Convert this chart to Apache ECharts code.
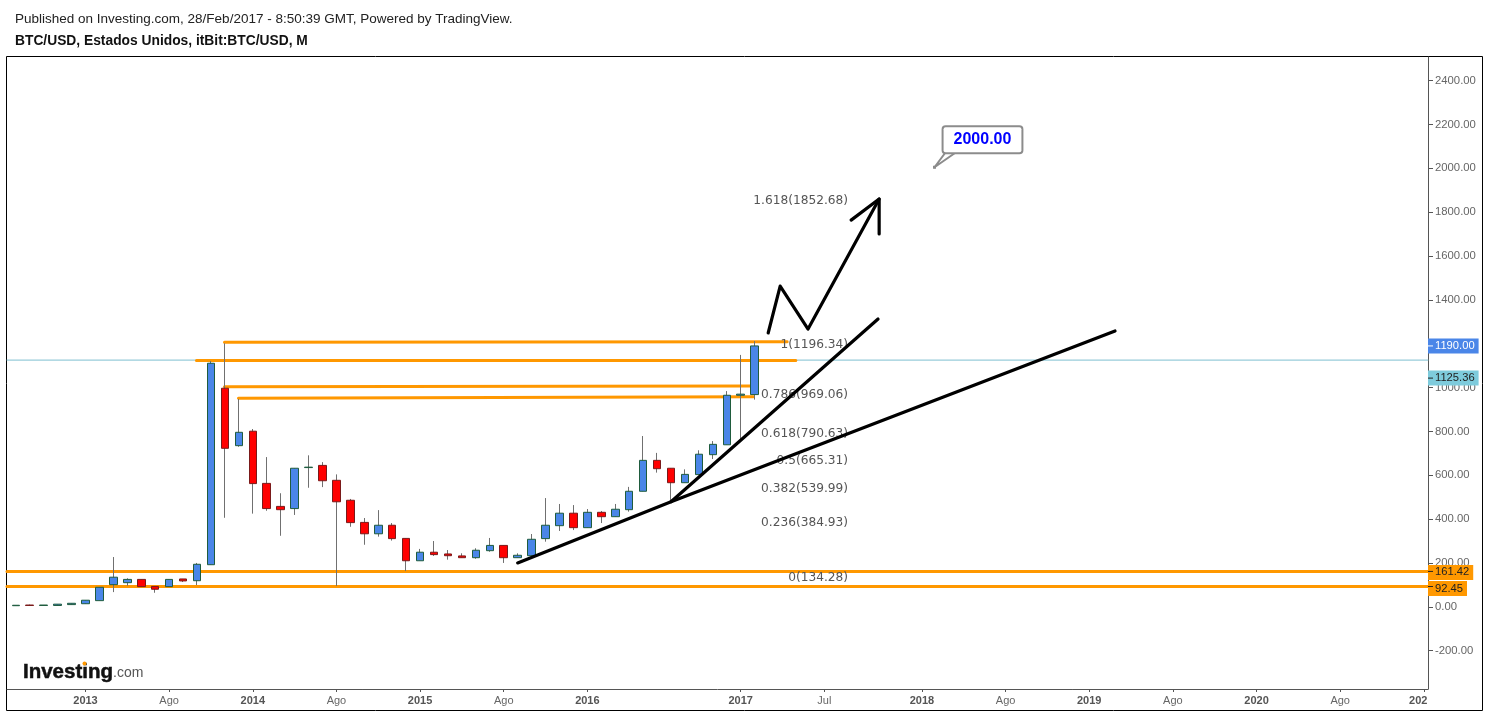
<!DOCTYPE html>
<html>
<head>
<meta charset="utf-8">
<title>BTC/USD</title>
<script src="https://cdn.jsdelivr.net/npm/echarts@6/dist/echarts.min.js"></script>
<style>
html, body { margin: 0; padding: 0; background: #fff; }
#chart { width: 1486px; height: 713px; }
</style>
</head>
<body>
<div id="chart"></div>
<script>
// bar numbers: 0 = Jan 2013, one per month
var barIndex = [-5, -4, -3, -2, -1, 0, 1, 2, 3, 4, 5, 6, 7, 8, 9, 10, 11, 12, 13, 14, 15, 16, 17, 18, 19, 20, 21, 22, 23, 24, 25, 26, 27, 28, 29, 30, 31, 32, 33, 34, 35, 36, 37, 38, 39, 40, 41, 42, 43, 44, 45, 46, 47, 48];
var opens = [5, 8, 6, 6, 10, 14, 28, 101, 110, 125, 93, 92, 127, 119, 192, 997, 735, 801, 563, 458, 448, 635, 645, 577, 486, 385, 333, 372, 312, 210, 249, 241, 232, 224, 256, 280, 224, 233, 311, 370, 427, 361, 431, 411, 443, 527, 668, 632, 566, 603, 694, 739, 965, 968];
var closes = [7, 6, 8, 12, 16, 30, 89, 135, 125, 92, 80, 125, 118, 194, 1111, 723, 796, 562, 448, 443, 632, 637, 575, 479, 384, 333, 372, 311, 210, 249, 238, 233, 224, 258, 280, 224, 235, 308, 372, 427, 361, 431, 411, 445, 527, 668, 630, 566, 604, 696, 741, 965, 970, 1190];
var lows = [5, 5, 6, 5, 10, 14, 28, 67, 96, 92, 64, 92, 113, 99, 192, 406, 730, 425, 438, 324, 419, 543, 546, 95, 365, 283, 320, 302, 163, 210, 232, 215, 224, 219, 251, 200, 224, 233, 297, 346, 350, 361, 382, 411, 434, 527, 612, 483, 566, 603, 674, 739, 753, 945];
var highs = [7, 10, 8, 12, 16, 30, 89, 227, 130, 125, 93, 125, 127, 200, 1121, 1202, 948, 811, 683, 518, 632, 691, 660, 604, 492, 405, 441, 382, 312, 264, 300, 259, 244, 267, 314, 280, 244, 332, 496, 469, 464, 446, 437, 469, 547, 779, 702, 632, 627, 714, 756, 984, 1149, 1212];

var priceTicks = [-200, 0, 200, 400, 600, 800, 1000, 1200, 1400, 1600, 1800, 2000, 2200, 2400];
var timeTickBars = [0, 6, 12, 18, 24, 30, 36, 47, 53, 60, 66, 72, 78, 84, 90, 96];
var timeLabelBars = [0, 6, 12, 18, 24, 30, 36, 47, 53, 60, 66, 72, 78, 84, 90, 95.6];
var timeLabels = ['2013', 'Ago', '2014', 'Ago', '2015', 'Ago', '2016', '2017', 'Jul', '2018', 'Ago', '2019', 'Ago', '2020', 'Ago', '202'];

var fibRatios = ['1.618', '1', '0.786', '0.618', '0.5', '0.382', '0.236', '0'];
var fibValues = [1852.68, 1196.34, 969.06, 790.63, 665.31, 539.99, 384.93, 134.28];

var supportLevels = [161.42, 92.45];
var lastClose = 1190;
var prevLevel = 1125.36;

// hand drawn lines, [bar, price]
var orangeSegments = [
    [[9.97, 1207], [50.33, 1209]],
    [[7.96, 1124], [50.95, 1124]],
    [[9.97, 1004], [47.68, 1007]],
    [[10.97, 951], [47.89, 958]]
];
var trendLow = [[31.0, 200], [42.0, 479.5], [73.85, 1258]];
var trendHigh = [[42.0, 479.5], [56.85, 1313]];
var wave = [[48.97, 1249], [49.83, 1463], [51.83, 1267], [56.93, 1860]];
var arrowHead = [[54.92, 1764], [56.93, 1860], [56.93, 1701]];
var calloutAnchor = [60.9, 2005];
var calloutTail = [[61.66, 2070], [60.9, 2005], [62.37, 2070]];
var calloutText = '2000.00';

var xMin = -5.631, xMax = 96.3, yMin = -375, yMax = 2508;

var bodies = [], wicks = [];
for (var i = 0; i < barIndex.length; i++) {
    wicks.push([barIndex[i], opens[i], closes[i], lows[i], highs[i]]);
    bodies.push([barIndex[i], opens[i], closes[i], Math.min(opens[i], closes[i]), Math.max(opens[i], closes[i])]);
}

var lineSeries = function (points, color, width, z) {
    return {
        type: 'line',
        data: points,
        symbol: 'none',
        silent: true,
        z: z,
        lineStyle: { color: color, width: width, cap: 'round', join: 'round' }
    };
};

var priceLabel = function (value, bg, textColor, dy) {
    return {
        value: [xMax, value],
        label: {
            show: true,
            position: 'right',
            distance: 0,
            offset: [0, dy],
            formatter: value.toFixed(2),
            color: textColor,
            backgroundColor: bg,
            fontFamily: 'Liberation Sans',
            fontSize: 11.2,
            padding: [2, 4, 2, 7]
        }
    };
};

var priceDash = function (value, color, dy) {
    return {
        value: [xMax, value],
        symbolOffset: [2.5, dy],
        itemStyle: { color: color, opacity: 1 }
    };
};

var series = [];
series.push(lineSeries([[xMin, prevLevel], [xMax, prevLevel]], '#7fbfd0', 1, 2));
supportLevels.forEach(function (v) {
    series.push(lineSeries([[xMin, v], [xMax, v]], '#ff9800', 3, 3));
});
orangeSegments.forEach(function (seg) {
    series.push(lineSeries(seg, '#ff9800', 3, 3));
});
series.push({
    type: 'candlestick',
    data: wicks,
    barWidth: 1,
    z: 4,
    silent: true,
    itemStyle: { color: '#707070', color0: '#707070', borderColor: '#707070', borderColor0: '#707070', borderWidth: 1 }
});
series.push({
    type: 'candlestick',
    data: bodies,
    barWidth: 8,
    z: 5,
    silent: true,
    itemStyle: { color: '#4a86e8', color0: '#ff0000', borderColor: '#1f5c3d', borderColor0: '#7a1a1a', borderWidth: 1 }
});
series.push({
    type: 'scatter',
    symbolSize: 0,
    z: 6,
    silent: true,
    itemStyle: { opacity: 1 },
    data: fibValues.map(function (v, k) {
        return {
            value: [54.7, v],
            label: {
                show: true,
                position: 'left',
                distance: 0,
                formatter: fibRatios[k] + '(' + v.toFixed(2) + ')',
                color: '#555555',
                fontFamily: 'DejaVu Sans',
                fontSize: 12.2
            }
        };
    })
});
series.push(lineSeries(trendLow, '#000000', 3.2, 7));
series.push(lineSeries(trendHigh, '#000000', 3.2, 7));
series.push(lineSeries(wave, '#000000', 3.2, 7));
series.push(lineSeries(arrowHead, '#000000', 3.2, 7));
series.push(lineSeries(calloutTail, '#8c8c8c', 2, 8));
series.push({
    type: 'scatter',
    symbol: 'rect',
    symbolSize: 3,
    z: 9,
    silent: true,
    itemStyle: { color: '#8c8c8c', opacity: 1 },
    data: [{
        value: calloutAnchor,
        label: {
            show: true,
            position: 'inside',
            align: 'center',
            verticalAlign: 'middle',
            offset: [48, -27.5],
            formatter: calloutText,
            color: '#0000ff',
            fontFamily: 'Liberation Sans',
            fontWeight: 'bold',
            fontSize: 16,
            backgroundColor: '#ffffff',
            borderColor: '#8c8c8c',
            borderWidth: 2,
            borderRadius: 2,
            padding: [5, 10, 4, 10]
        }
    }]
});
// price tags on the right axis
series.push({
    type: 'scatter',
    symbolSize: 0,
    z: 10,
    silent: true,
    clip: false,
    itemStyle: { opacity: 1 },
    data: [
        priceLabel(lastClose, '#4a86e8', '#ffffff', 0),
        priceLabel(prevLevel, '#7ecbdc', '#222222', 18),
        priceLabel(supportLevels[0], '#ff9800', '#222222', 1),
        priceLabel(supportLevels[1], '#ff9800', '#222222', 2)
    ]
});
series.push({
    type: 'scatter',
    symbol: 'rect',
    symbolSize: [5, 1],
    z: 11,
    silent: true,
    clip: false,
    data: [
        priceDash(lastClose, '#ffffff', 0),
        priceDash(prevLevel, '#222222', 18),
        priceDash(supportLevels[0], '#222222', 0),
        priceDash(supportLevels[1], '#222222', 0)
    ]
});

var chart = echarts.init(document.getElementById('chart'), null, { renderer: 'canvas' });
chart.setOption({
    animation: false,
    backgroundColor: '#ffffff',
    title: [
        {
            text: 'Published on Investing.com, 28/Feb/2017 - 8:50:39 GMT, Powered by TradingView.',
            left: 10, top: 7,
            textStyle: { fontFamily: 'Liberation Sans', fontSize: 13.5, fontWeight: 'normal', color: '#222222' }
        },
        {
            text: 'BTC/USD, Estados Unidos, itBit:BTC/USD, M',
            left: 10, top: 29,
            textStyle: { fontFamily: 'Liberation Sans', fontSize: 13.8, fontWeight: 'bold', color: '#111111' }
        }
    ],
    grid: { left: 7, right: 58, top: 57, bottom: 24 },
    xAxis: {
        type: 'value',
        min: xMin,
        max: xMax,
        splitLine: { show: false },
        axisLine: { show: true, onZero: false, lineStyle: { color: '#555555', width: 1 } },
        axisTick: { show: true, length: 3, lineStyle: { color: '#555555' }, customValues: timeTickBars },
        axisLabel: {
            customValues: timeLabelBars,
            margin: 6,
            formatter: function (v) {
                var t = timeLabels[timeLabelBars.indexOf(v)];
                return /^\d/.test(t) ? '{year|' + t + '}' : t;
            },
            color: '#666666',
            fontFamily: 'Liberation Sans',
            fontSize: 11,
            rich: { year: { fontWeight: 'bold', color: '#555555', fontFamily: 'Liberation Sans', fontSize: 11 } }
        }
    },
    yAxis: {
        type: 'value',
        position: 'right',
        min: yMin,
        max: yMax,
        splitLine: { show: false },
        axisLine: { show: true, onZero: false, lineStyle: { color: '#555555', width: 1 } },
        axisTick: { show: true, length: 5, lineStyle: { color: '#555555' }, customValues: priceTicks },
        axisLabel: {
            customValues: priceTicks,
            margin: 7,
            formatter: function (v) { return v.toFixed(2); },
            color: '#666666',
            fontFamily: 'Liberation Sans',
            fontSize: 11.3
        }
    },
    series: series,
    graphic: [
        {
            type: 'rect',
            silent: true,
            z: 0,
            shape: { x: 6.5, y: 56.5, width: 1476, height: 654 },
            style: { fill: 'none', stroke: '#000000', lineWidth: 1 }
        },
        {
            type: 'text',
            silent: true,
            z: 20,
            x: 23,
            y: 662,
            style: {
                text: 'Investing',
                fill: '#111111',
                stroke: '#111111',
                lineWidth: 0.5,
                font: 'bold 20.5px "Liberation Sans"'
            }
        },
        {
            type: 'text',
            silent: true,
            z: 20,
            x: 113,
            y: 666,
            style: {
                text: '.com',
                fill: '#555555',
                font: '14px "Liberation Sans"'
            }
        },
        {
            type: 'circle',
            silent: true,
            z: 21,
            shape: { cx: 84.5, cy: 663.5, r: 2 },
            style: { fill: '#ff9800' }
        }
    ]
});
</script>
</body>
</html>
